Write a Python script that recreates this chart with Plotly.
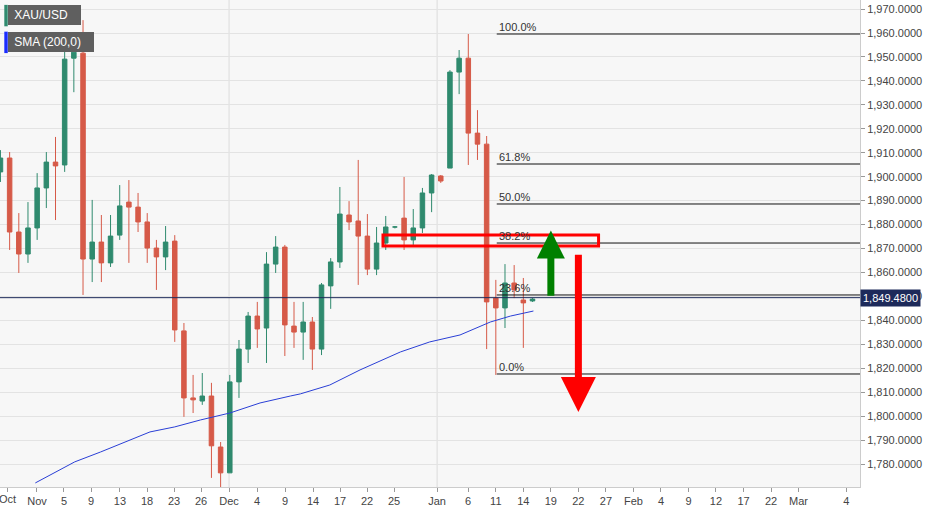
import plotly.graph_objects as go

# candle data (index = trading day)
opens = [1902.0, 1907.8, 1876.9, 1867.7, 1878.6, 1895.3, 1906.1, 1904.9, 1949.5, 1951.6,
         1865.6, 1872.7, 1864.0, 1875.6, 1889.4, 1887.3, 1881.1, 1870.2, 1866.5, 1873.1,
         1835.6, 1807.6, 1806.3, 1808.4, 1787.1, 1776.3, 1814.3, 1828.0, 1841.8, 1836.8,
         1863.5, 1870.6, 1837.6, 1835.1, 1839.3, 1828.0, 1854.4, 1864.4, 1884.0, 1881.5,
         1875.2, 1861.4, 1872.3, 1879.0, 1882.7, 1873.6, 1878.6, 1893.2, 1900.3, 1903.6,
         1943.7, 1949.5, 1918.2, 1913.6, 1849.3, 1845.2, 1855.6, 1848.5, 1848.1]
highs = [1911.1, 1910.3, 1884.8, 1889.4, 1901.5, 1910.3, 1916.6, 1952.9, 1960.4, 1965.4,
         1890.3, 1884.0, 1884.0, 1896.5, 1898.6, 1893.2, 1884.8, 1873.6, 1879.4, 1875.6,
         1838.9, 1817.2, 1818.0, 1813.9, 1789.2, 1817.2, 1831.8, 1843.5, 1847.7, 1868.5,
         1875.2, 1871.5, 1847.7, 1847.7, 1841.4, 1855.6, 1866.0, 1895.7, 1889.8, 1907.0,
         1884.4, 1879.0, 1883.6, 1879.4, 1899.9, 1886.5, 1895.3, 1901.1, 1900.7, 1944.5,
         1952.9, 1959.6, 1927.8, 1917.0, 1856.9, 1863.5, 1863.1, 1857.7, 1849.3]
lows = [1897.8, 1869.4, 1859.8, 1864.0, 1873.6, 1886.9, 1881.9, 1902.0, 1935.3, 1850.6,
        1856.0, 1856.0, 1862.3, 1873.6, 1864.0, 1876.9, 1864.0, 1852.7, 1861.0, 1831.0,
        1799.7, 1801.3, 1804.7, 1774.2, 1770.4, 1776.3, 1807.6, 1822.2, 1828.5, 1822.2,
        1859.8, 1825.1, 1828.5, 1823.5, 1819.3, 1825.5, 1844.8, 1861.9, 1877.7, 1854.8,
        1858.9, 1858.9, 1869.4, 1878.4, 1869.4, 1871.5, 1876.5, 1885.2, 1897.4, 1903.6,
        1934.5, 1904.9, 1907.0, 1828.0, 1817.2, 1836.8, 1849.3, 1828.5, 1847.7]
closes = [1907.8, 1876.9, 1867.7, 1878.6, 1895.3, 1906.1, 1904.5, 1949.1, 1952.0, 1865.6,
          1872.7, 1864.0, 1875.2, 1887.8, 1887.3, 1881.1, 1870.2, 1866.5, 1872.7, 1836.0,
          1807.6, 1806.8, 1808.4, 1787.6, 1776.3, 1814.3, 1828.0, 1841.8, 1836.4, 1863.5,
          1870.6, 1838.1, 1835.1, 1839.3, 1828.0, 1854.8, 1864.4, 1884.4, 1881.1, 1875.2,
          1861.4, 1872.3, 1879.0, 1879.0, 1873.6, 1878.6, 1893.2, 1900.7, 1898.2, 1943.7,
          1949.5, 1918.2, 1913.6, 1847.7, 1845.2, 1855.6, 1852.7, 1847.3, 1848.9]

sma_x = [3.8, 6.5, 8.1, 10.9, 16.3, 19.0, 21.8, 25.0, 28.3, 31.6, 32.7, 35.9, 39.2, 43.6,
         46.8, 50.1, 53.4, 55.6, 58.1]
sma_y = [1772.1, 1777.5, 1780.9, 1785.0, 1793.4, 1795.5, 1798.4, 1801.3, 1805.5, 1808.4,
         1809.3, 1813.0, 1819.3, 1826.8, 1831.0, 1833.9, 1839.3, 1841.8, 1843.9]

tick_pos = [0.82, 3.98, 6.92, 9.87, 13.03, 15.98, 18.92, 21.87, 24.92, 27.97, 31.03, 34.08,
            37.02, 39.97, 42.91, 47.6, 50.98, 54.0, 57.0, 60.0, 63.0, 66.0, 69.0, 72.0,
            75.0, 78.0, 81.0, 84.0, 87.0, 92.2]
tick_text = ["Oct", "Nov", "5", "9", "13", "18", "23", "26", "Dec", "4", "9", "14", "17",
             "22", "25", "Jan", "6", "11", "14", "19", "22", "27", "Feb", "4", "9", "12",
             "17", "22", "Mar", "4"]

fib_levels = [1959.6, 1905.3, 1888.6, 1872.3, 1850.6, 1817.6]
fib_labels = ["100.0%", "61.8%", "50.0%", "38.2%", "23.6%", "0.0%"]
last_price = 1849.48

fig = go.Figure()
fig.add_trace(go.Candlestick(
    x=list(range(len(opens))), open=opens, high=highs, low=lows, close=closes,
    increasing=dict(line=dict(color="#2f8a6e", width=1), fillcolor="#2f8a6e"),
    decreasing=dict(line=dict(color="#d65a48", width=1), fillcolor="#d65a48"),
    whiskerwidth=0, showlegend=False,
))
fig.add_trace(go.Scatter(x=sma_x, y=sma_y, mode="lines", line=dict(color="#2a3fd6", width=1),
                         showlegend=False, hoverinfo="skip"))

# month separators
for xm in [24.92, 47.6]:
    fig.add_vline(x=xm, line=dict(color="#dcdcdc", width=1), layer="below")

fig.add_hline(y=last_price, line=dict(color="#1d2a5a", width=1))

for lvl, lab in zip(fib_levels, fib_labels):
    fig.add_shape(type="line", x0=54.1, x1=94, y0=lvl, y1=lvl, line=dict(color="#111", width=1))
    fig.add_annotation(x=54.1, y=lvl, text=lab, showarrow=False, xanchor="left", yanchor="bottom",
                       font=dict(size=11, color="#333"), yshift=-1)

# resistance box
fig.add_shape(type="rect", x0=41.7, x1=65.2, y0=1871.1, y1=1875.6,
              line=dict(color="red", width=3))

# arrows
fig.add_annotation(x=60.0, y=1877.5, ax=60.0, ay=1849.7, xref="x", yref="y", axref="x", ayref="y",
                   showarrow=True, arrowhead=2, arrowsize=0.8, arrowwidth=7, arrowcolor="green", text="")
fig.add_annotation(x=63.0, y=1801.7, ax=63.0, ay=1868.0, xref="x", yref="y", axref="x", ayref="y",
                   showarrow=True, arrowhead=2, arrowsize=1.0, arrowwidth=7, arrowcolor="red", text="")

# price label
fig.add_annotation(x=1, xref="paper", y=last_price, text="1,849.4800", showarrow=False,
                   xanchor="left", bgcolor="#1d2a5a", font=dict(color="white", size=11),
                   borderpad=2)

# first month label sits on the left edge, plotly would drop it
fig.add_annotation(x=tick_pos[0], y=0, xref="x", yref="paper", yanchor="top", yshift=-4,
                   text=tick_text[0], showarrow=False, font=dict(size=11, color="#444"))

# legend boxes
for i, (txt, col) in enumerate([("XAU/USD", "#2f8a6e"), ("SMA (200,0)", "#1a2cff")]):
    fig.add_annotation(x=0.009, y=1 - 0.01 - i * 0.055, xref="paper", yref="paper",
                       text=" " + txt + "   ", showarrow=False, xanchor="left", yanchor="top",
                       bgcolor="#5f5f5f", font=dict(color="white", size=12, family="Arial"),
                       borderpad=3, borderwidth=0)
    fig.add_shape(type="rect", xref="paper", yref="paper", x0=0.005, x1=0.009,
                  y0=1 - 0.01 - i * 0.055 - 0.044, y1=1 - 0.01 - i * 0.055,
                  fillcolor=col, line=dict(width=0))

fig.update_xaxes(range=[-0.05, 93.7], tickvals=tick_pos, ticktext=tick_text, showgrid=False,
                 rangeslider=dict(visible=False), ticks="outside", ticklen=4, tickcolor="#999",
                 showline=True, linecolor="#ccc", tickfont=dict(size=11, color="#444"), zeroline=False)
fig.update_yaxes(range=[1770.4, 1973.8], side="right", tickvals=list(range(1780, 1971, 10)),
                 tickformat=",.4f", gridcolor="#e3e3e3", ticks="outside", ticklen=4, tickcolor="#999",
                 showline=True, linecolor="#ccc", tickfont=dict(size=11, color="#444"), zeroline=False)
fig.update_layout(width=940, height=511, margin=dict(l=0, r=80, t=0, b=24),
                  plot_bgcolor="#f7f7f7", paper_bgcolor="white",
                  font=dict(family="Liberation Sans, Arial"))
fig.write_html("out.html", config=dict(displayModeBar=False),
               post_script="document.body.style.margin='0';")
